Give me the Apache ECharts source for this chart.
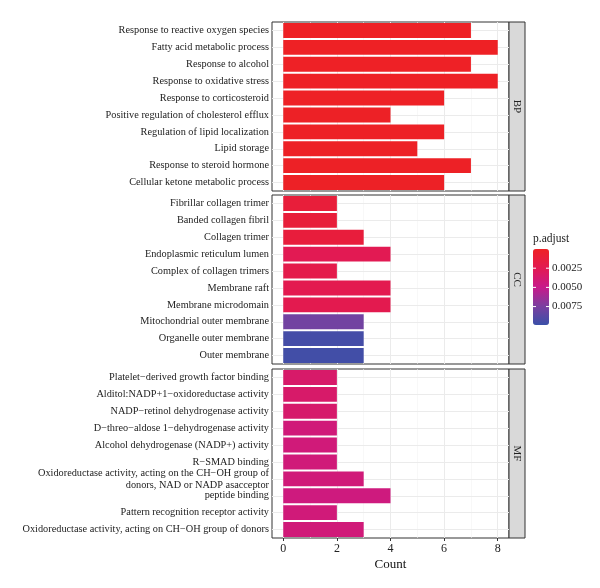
<!DOCTYPE html>
<html>
<head>
<meta charset="utf-8">
<script src="https://cdn.jsdelivr.net/npm/echarts@6/dist/echarts.min.js"></script>
<style>
  html, body { margin: 0; padding: 0; background: #fff; }
  #chart { width: 600px; height: 588px; }
</style>
</head>
<body>
<div id="chart"></div>
<script>
// facet labels
const panels = ['BP', 'CC', 'MF']

// BP
const bpTerms = [
  'Response to reactive oxygen species',
  'Fatty acid metabolic process',
  'Response to alcohol',
  'Response to oxidative stress',
  'Response to corticosteroid',
  'Positive regulation of cholesterol efflux',
  'Regulation of lipid localization',
  'Lipid storage',
  'Response to steroid hormone',
  'Cellular ketone metabolic process'
]
const bpCount = [7, 8, 7, 8, 6, 4, 6, 5, 7, 6]
const bpPadj = [0.00008, 0.00008, 0.0001, 0.0001, 0.0001, 0.00012, 0.00012, 0.00012, 0.00012, 0.00012]

// CC
const ccTerms = [
  'Fibrillar collagen trimer',
  'Banded collagen fibril',
  'Collagen trimer',
  'Endoplasmic reticulum lumen',
  'Complex of collagen trimers',
  'Membrane raft',
  'Membrane microdomain',
  'Mitochondrial outer membrane',
  'Organelle outer membrane',
  'Outer membrane'
]
const ccCount = [2, 2, 3, 4, 2, 4, 4, 3, 3, 3]
const ccPadj = [0.0012, 0.0012, 0.0013, 0.0025, 0.0021, 0.0023, 0.0023, 0.0078, 0.0095, 0.0096]

// MF
const mfTerms = [
  'Platelet\u2212derived growth factor binding',
  'Alditol:NADP+1\u2212oxidoreductase activity',
  'NADP\u2212retinol dehydrogenase activity',
  'D\u2212threo\u2212aldose 1\u2212dehydrogenase activity',
  'Alcohol dehydrogenase (NADP+) activity',
  'R\u2212SMAD binding',
  'Oxidoreductase activity, acting on the CH\u2212OH group of\ndonors, NAD or NADP asacceptor',
  'peptide binding',
  'Pattern recognition receptor activity',
  'Oxidoreductase activity, acting on CH\u2212OH group of donors'
]
const mfCount = [2, 2, 2, 2, 2, 2, 3, 4, 2, 3]
const mfPadj = [0.0035, 0.0035, 0.0036, 0.0042, 0.0042, 0.0042, 0.0042, 0.0044, 0.0042, 0.0042]

const xTicks = [0, 2, 4, 6, 8]
const xMinor = [1, 3, 5, 7]
const legendTicks = [0.0025, 0.005, 0.0075]
const legendLabels = ['0.0025', '0.0050', '0.0075']
const padjMin = 0
const padjMax = 0.0099

const terms = [bpTerms, ccTerms, mfTerms]
const counts = [bpCount, ccCount, mfCount]
const padjs = [bpPadj, ccPadj, mfPadj]

const FONT = '"Liberation Serif", serif'
const panelLeft = 272
const panelWidth = 237
const stripWidth = 16
const panelTops = [22, 195, 369]
const panelHeight = 169

const grids = []
const xAxes = []
const yAxes = []
const series = []
const graphics = []

panels.forEach((p, i) => {
  const last = i === panels.length - 1
  grids.push({
    left: panelLeft,
    top: panelTops[i],
    width: panelWidth,
    height: panelHeight,
    show: true,
    borderColor: '#333',
    borderWidth: 1,
    backgroundColor: '#fff'
  })
  xAxes.push({
    type: 'value',
    gridIndex: i,
    min: -0.42,
    max: 8.42,
    splitLine: { show: false },
    axisLine: { show: false },
    axisTick: { show: last, customValues: xTicks, length: 3, lineStyle: { color: '#333' } },
    axisLabel: { show: last, customValues: xTicks, color: '#222', fontSize: 12, fontFamily: FONT, margin: 5 },
    name: last ? 'Count' : '',
    nameLocation: 'middle',
    nameGap: 20,
    nameTextStyle: { color: '#111', fontSize: 13, fontFamily: FONT }
  })
  yAxes.push({
    type: 'category',
    gridIndex: i,
    inverse: true,
    data: terms[i],
    axisLine: { show: false },
    axisTick: { show: true, alignWithLabel: true, length: 3, lineStyle: { color: '#333' } },
    axisLabel: { color: '#222', fontSize: 10.3, fontFamily: FONT, margin: 3, lineHeight: 12 },
    splitLine: { show: false }
  })
  const gridLines = []
  xTicks.forEach(v => gridLines.push({ xAxis: v, lineStyle: { color: '#EBEBEB', width: 1, type: 'solid' } }))
  xMinor.forEach(v => gridLines.push({ xAxis: v, lineStyle: { color: '#F4F4F4', width: 0.6, type: 'solid' } }))
  terms[i].forEach((t, k) => gridLines.push({ yAxis: k, lineStyle: { color: '#EBEBEB', width: 1, type: 'solid' } }))
  series.push({
    type: 'line',
    xAxisIndex: i,
    yAxisIndex: i,
    data: [],
    silent: true,
    z: 1,
    markLine: {
      silent: true,
      z: 1,
      symbol: ['none', 'none'],
      label: { show: false },
      animation: false,
      data: gridLines
    }
  })
  series.push({
    type: 'bar',
    name: p,
    xAxisIndex: i,
    yAxisIndex: i,
    z: 10,
    barCategoryGap: '12%',
    data: terms[i].map((t, k) => [counts[i][k], t, padjs[i][k]]),
    encode: { x: 0, y: 1 }
  })
  // facet strip
  graphics.push({
    type: 'rect',
    shape: { x: panelLeft + panelWidth, y: panelTops[i], width: stripWidth, height: panelHeight },
    style: { fill: '#D9D9D9', stroke: '#333', lineWidth: 1 }
  })
  graphics.push({
    type: 'text',
    x: panelLeft + panelWidth + stripWidth / 2,
    y: panelTops[i] + panelHeight / 2,
    rotation: -Math.PI / 2,
    style: { text: p, fill: '#222', font: '11px ' + FONT, align: 'center', verticalAlign: 'middle' }
  })
})

// colourbar legend
const barLeft = 533
const barTop = 249
const barW = 16
const barH = 76
graphics.push({
  type: 'text', x: barLeft, y: barTop - 4,
  style: { text: 'p.adjust', fill: '#222', font: '11.5px ' + FONT, verticalAlign: 'bottom' }
})
legendTicks.forEach((v, k) => {
  const y = barTop + (v - padjMin) / (padjMax - padjMin) * barH
  graphics.push({ type: 'line', shape: { x1: barLeft, y1: y, x2: barLeft + 3, y2: y }, style: { stroke: '#fff', lineWidth: 1 }, z: 100 })
  graphics.push({ type: 'line', shape: { x1: barLeft + barW - 3, y1: y, x2: barLeft + barW, y2: y }, style: { stroke: '#fff', lineWidth: 1 }, z: 100 })
  graphics.push({
    type: 'text', x: barLeft + barW + 3, y: y,
    style: { text: legendLabels[k], fill: '#222', font: '11px ' + FONT, verticalAlign: 'middle' }
  })
})

const chart = echarts.init(document.getElementById('chart'), null, { renderer: 'canvas' })
chart.setOption({
  backgroundColor: '#fff',
  animation: false,
  grid: grids,
  xAxis: xAxes,
  yAxis: yAxes,
  visualMap: {
    type: 'continuous',
    min: padjMin,
    max: padjMax,
    dimension: 2,
    seriesIndex: [1, 3, 5],
    inverse: true,
    calculable: false,
    realtime: false,
    hoverLink: false,
    left: barLeft,
    top: barTop,
    itemWidth: barW,
    itemHeight: barH,
    text: null,
    showLabel: false,
    padding: 0,
    inRange: { color: ['#EE2124', '#E21A52', '#C81A8A', '#7C3FA0', '#3A50A8'] }
  },
  graphic: graphics,
  series: series
})
</script>
</body>
</html>
